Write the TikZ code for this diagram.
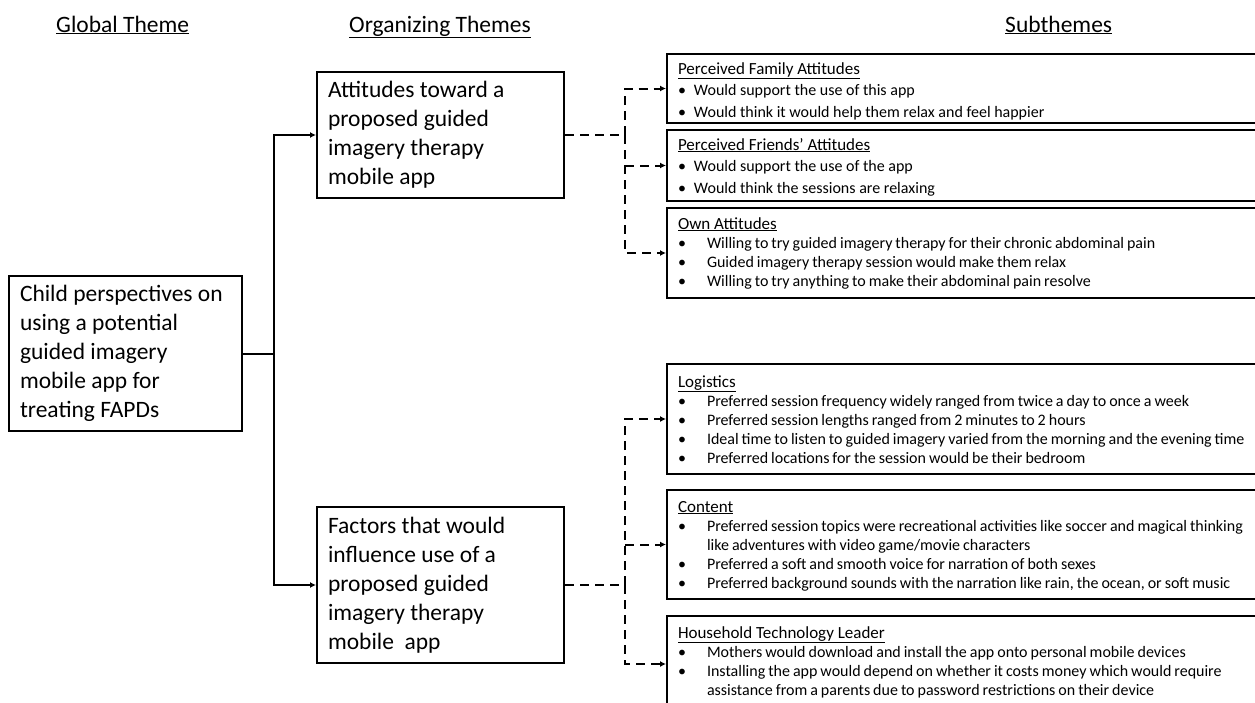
\documentclass[tikz,border=0pt]{standalone}
\usepackage{fontspec}
\setmainfont{Carlito}
\usetikzlibrary{arrows.meta}
\newcommand{\subhead}[1]{{\fontsize{17}{19}\selectfont\underline{#1}}}
\newcommand{\dotitem}[1]{\makebox[16pt][l]{\textbullet}#1}
\newcommand{\tabitem}[1]{\makebox[29pt][l]{\textbullet}{\spaceskip=3pt\relax #1}}
\newcommand{\tabcont}[1]{\hspace*{29pt}{\spaceskip=3pt\relax #1}}

\begin{document}
\begin{tikzpicture}[x=1pt, y=-1pt,
        heading/.style={anchor=base west, inner sep=0pt, font=\fontsize{23.5}{29}\selectfont},
        themebox/.style={draw, line width=2pt, anchor=north west, align=flush left,
            inner xsep=11pt, inner ysep=0pt, font=\fontsize{23.5}{29}\selectfont},
        subbox/.style={draw, line width=2pt, anchor=north west, align=flush left,
            inner xsep=11pt, inner ysep=0pt, text width=620pt, font=\fontsize{16}{19}\selectfont},
        widebox/.style={subbox, font=\fontsize{16}{21.5}\selectfont},
        link/.style={line width=2pt, -{Latex[length=6pt,width=6pt]}},
        dlink/.style={link, dash pattern=on 9pt off 6pt}]
        \useasboundingbox (0,0) rectangle (1255,702);
        % Column headings.
        \node[heading] (hglobal) at (56,32) {\underline{Global Theme}};
        \node[heading] (horg) at (349,32) {\underline{Organizing Themes}};
        \node[heading] (hsub) at (1005,32) {\underline{Subthemes}};
        % Global theme.
        \node[themebox, text width=211pt, minimum height=155pt] (child) at (8,275)
            {Child perspectives on\\using a potential\\guided imagery\\mobile app for\\treating FAPDs};
        % Organizing themes.
        \node[themebox, text width=225pt, minimum height=126pt] (attitudes) at (316,71)
            {Attitudes toward a\\proposed guided\\imagery therapy\\mobile app};
        \node[themebox, text width=225pt, minimum height=156pt] (factors) at (316,506)
            {Factors that would\\influence use of a\\proposed guided\\imagery therapy\\mobile~ app};
        % Subthemes of the attitudes.
        \node[widebox, text height=20pt, text depth=49pt] (family) at (666,53)
            {\subhead{Perceived Family Attitudes}\\
             \dotitem{Would support the use of this app}\\
             \dotitem{Would think it would help them relax and feel happier}};
        \node[widebox, text height=20pt, text depth=51pt] (friends) at (666,129)
            {\subhead{Perceived Friends’ Attitudes}\\
             \dotitem{Would support the use of the app}\\
             \dotitem{Would think the sessions are relaxing}};
        \node[subbox, text height=21pt, text depth=69pt] (own) at (666,207)
            {\subhead{Own Attitudes}\\
             \tabitem{Willing to try guided imagery therapy for their chronic abdominal pain}\\
             \tabitem{Guided imagery therapy session would make them relax}\\
             \tabitem{Willing to try anything to make their abdominal pain resolve}};
        % Subthemes of the factors.
        \node[subbox, text height=23pt, text depth=87pt] (logistics) at (666,363)
            {\subhead{Logistics}\\
             \tabitem{Preferred session frequency widely ranged from twice a day to once a week}\\
             \tabitem{Preferred session lengths ranged from 2 minutes to 2 hours}\\
             \tabitem{Ideal time to listen to guided imagery varied from the morning and the evening time}\\
             \tabitem{Preferred locations for the session would be their bedroom}};
        \node[subbox, text height=22pt, text depth=87pt] (content) at (666,489)
            {\subhead{Content}\\
             \tabitem{Preferred session topics were recreational activities like soccer and magical thinking}\\
             \tabcont{like adventures with video game/movie characters}\\
             \tabitem{Preferred a soft and smooth voice for narration of both sexes}\\
             \tabitem{Preferred background sounds with the narration like rain, the ocean, or soft music}};
        \node[subbox, text height=22pt, text depth=74pt] (leader) at (666,615)
            {\subhead{Household Technology Leader}\\
             \tabitem{Mothers would download and install the app onto personal mobile devices}\\
             \tabitem{Installing the app would depend on whether it costs money which would require}\\
             \tabcont{assistance from a parents due to password restrictions on their device}};
        % Solid links from the global theme.
        \coordinate (split) at ([xshift=31pt]child.east);
        \draw[line width=2pt] (child.east) -- (split);
        \draw[link] (split) |- (attitudes.west);
        \draw[link] (split) |- (factors.west);
        % Dashed links to the subthemes.
        \coordinate (topjoin) at ([xshift=60pt]attitudes.east);
        \draw[line width=2pt, dash pattern=on 9pt off 6pt] (attitudes.east) -- (topjoin);
        \draw[dlink] (topjoin) |- (family.west);
        \draw[dlink] (topjoin |- friends.west) -- (friends.west);
        \draw[dlink] (topjoin) |- (own.west);
        \coordinate (lowjoin) at ([xshift=60pt]factors.east);
        \draw[line width=2pt, dash pattern=on 9pt off 6pt] (factors.east) -- (lowjoin);
        \draw[dlink] (lowjoin) |- (logistics.west);
        \draw[dlink] (lowjoin |- content.west) -- (content.west);
        \draw[dlink] (lowjoin) |- (leader.west);
    \end{tikzpicture}
\end{document}
